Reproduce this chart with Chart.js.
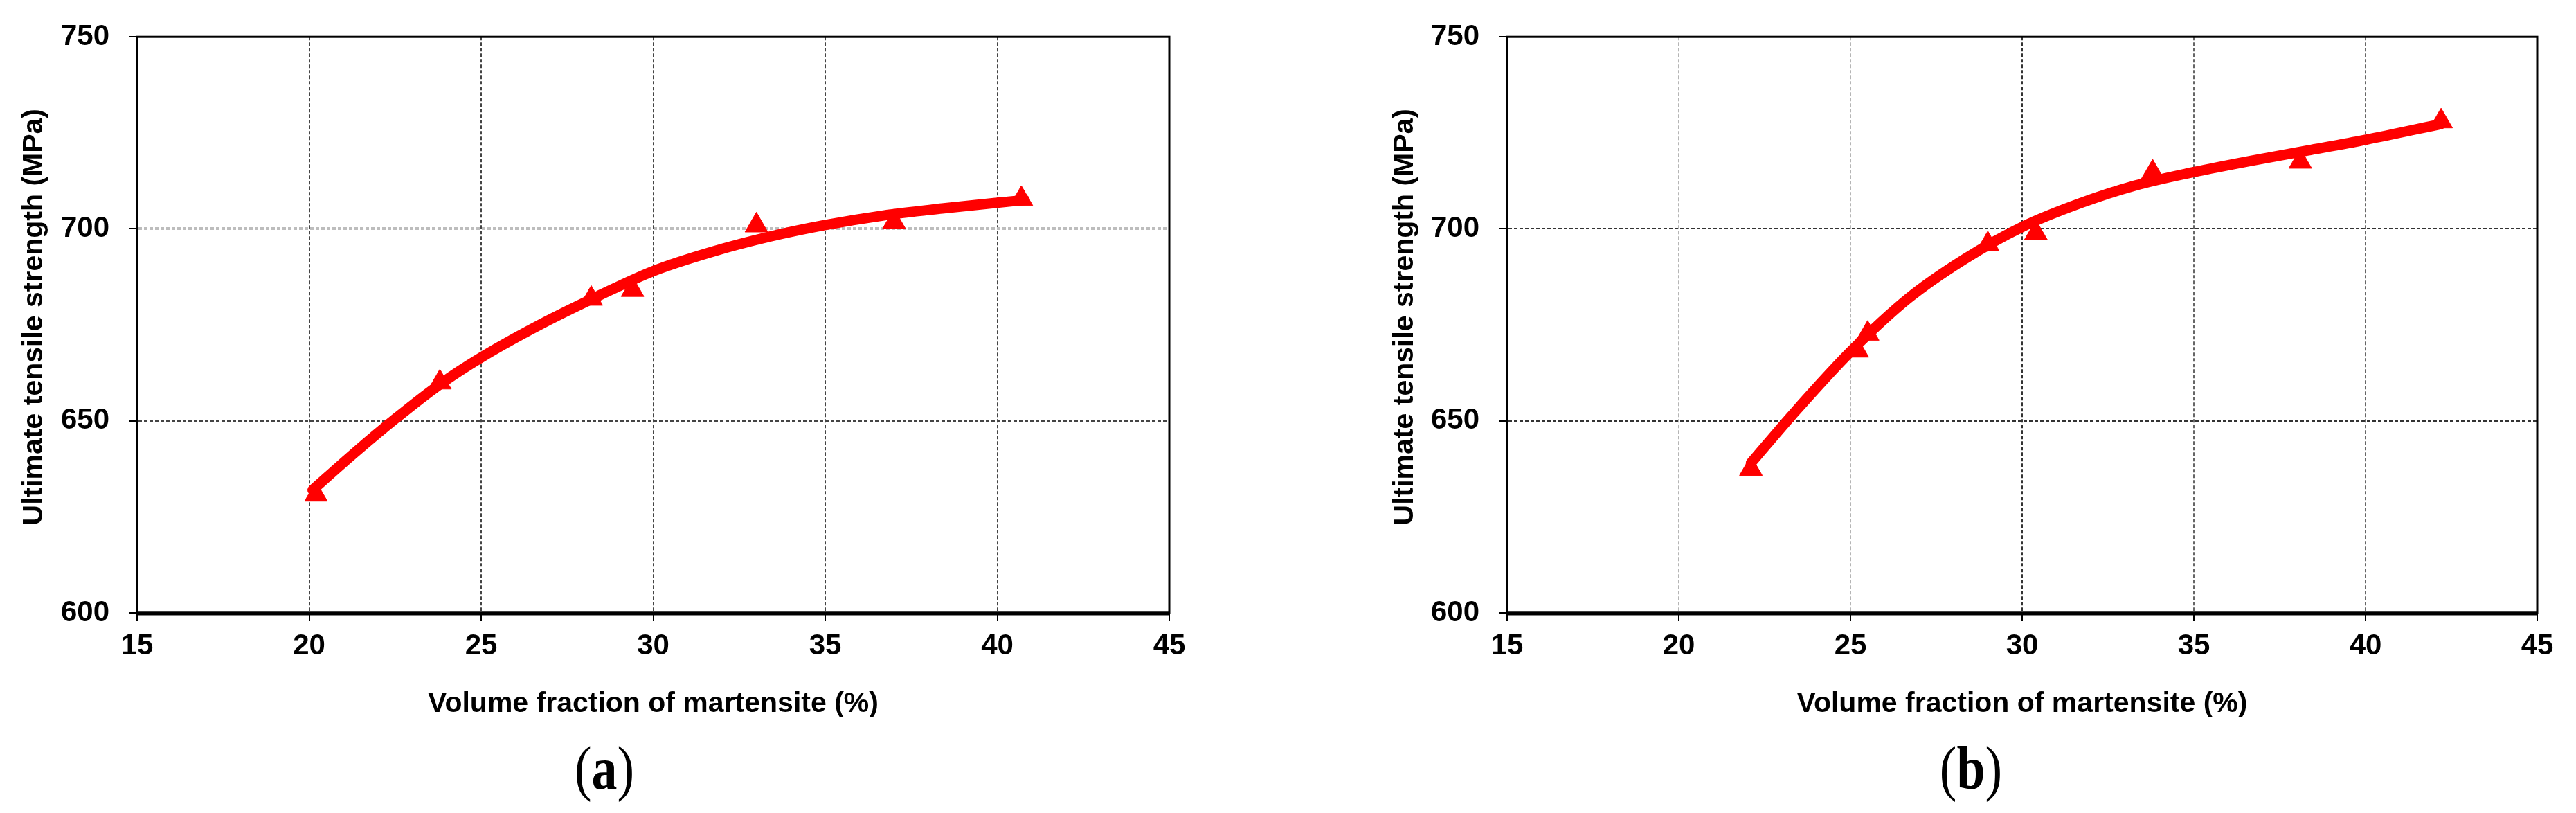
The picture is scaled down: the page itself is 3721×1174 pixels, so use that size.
<!DOCTYPE html>
<html>
<head>
<meta charset="utf-8">
<script src="https://cdn.jsdelivr.net/npm/chart.js@4.4.1/dist/chart.umd.min.js"></script>
<style>
  html, body { margin: 0; padding: 0; background: #fff; }
  #wrap { position: relative; width: 3721px; height: 1174px; }
  canvas { position: absolute; top: 0; }
</style>
</head>
<body>
<div id="wrap">
  <canvas id="chartA" width="1860" height="1174" style="left:0"></canvas>
  <canvas id="chartB" width="1861" height="1174" style="left:1860px"></canvas>
</div>
<script>
// axis ticks shared by both panels
const xTicks = [15, 20, 25, 30, 35, 40, 45];
const yTicks = [600, 650, 700, 750];

// panel (a) measured points
const aMarkX = [20.2, 23.8, 28.2, 29.4, 33.0, 37.0, 40.7];
const aMarkY = [630.8, 660.0, 681.8, 684.1, 700.9, 701.8, 707.8];
// panel (a) fitted curve
const aCurveX = [20.1, 21.3, 22.5, 23.8, 25, 26.7, 28.4, 30, 31.7, 33.4, 35, 36.7, 38.4, 40, 40.8];
const aCurveY = [632, 641.5, 650.5, 659.5, 666.5, 675, 682.5, 689, 694, 698, 701, 703.5, 705.3, 706.8, 707.5];

// panel (b) measured points
const bMarkX = [22.1, 25.2, 25.5, 29.0, 30.4, 33.8, 38.1, 42.2];
const bMarkY = [637.5, 668.3, 672.7, 696.0, 698.9, 714.7, 717.5, 728.0];
// panel (b) fitted curve
const bCurveX = [22.1, 23.3, 25, 26.7, 28.3, 30, 31.7, 33.3, 35, 36.7, 38.3, 40, 42.2];
const bCurveY = [639, 651.5, 668, 682, 692, 700.5, 706.7, 711.3, 714.8, 717.8, 720.4, 723.2, 727.3];

const xTitle = 'Volume fraction of martensite (%)';
const yTitle = '  Ultimate tensile strength (MPa)';

const RED = '#ff0000';
const tickFont = { family: '"Liberation Sans", Arial, sans-serif', size: 42, weight: 'bold' };
const titleFont = { family: '"Liberation Sans", Arial, sans-serif', size: 41, weight: 'bold' };

const toPts = (xs, ys) => xs.map((x, i) => ({ x: x, y: ys[i] }));

// box around the plot area
const framePlugin = {
  id: 'frame',
  afterDraw(chart) {
    const { ctx, chartArea: a } = chart;
    ctx.save();
    ctx.strokeStyle = '#000';
    ctx.lineWidth = 3;
    ctx.strokeRect(a.left, a.top, a.right - a.left, a.bottom - a.top);
    ctx.lineWidth = 5;
    ctx.beginPath();
    ctx.moveTo(a.left, a.bottom + 1);
    ctx.lineTo(a.right, a.bottom + 1);
    ctx.stroke();
    ctx.restore();
  }
};

// "(a)" / "(b)" under each panel
const tagPlugin = {
  id: 'panelTag',
  afterDraw(chart, args, opts) {
    const ctx = chart.ctx;
    const reg = '88px "Liberation Serif", "Times New Roman", serif';
    const bold = 'bold ' + reg;
    ctx.save();
    ctx.translate(opts.x, opts.y);
    ctx.scale(0.84, 1);
    ctx.fillStyle = '#000';
    ctx.textBaseline = 'alphabetic';
    ctx.font = reg;
    const wl = ctx.measureText('(').width;
    const wr = ctx.measureText(')').width;
    ctx.font = bold;
    const wm = ctx.measureText(opts.text).width;
    let x = -(wl + wm + wr) / 2;
    ctx.font = reg;
    ctx.fillText('(', x, 0);
    x += wl;
    ctx.font = bold;
    ctx.fillText(opts.text, x, 0);
    x += wm;
    ctx.font = reg;
    ctx.fillText(')', x, 0);
    ctx.restore();
  }
};

function makeChart(id, markX, markY, curveX, curveY, cfg) {
  const ctx = document.getElementById(id).getContext('2d');
  return new Chart(ctx, {
    type: 'scatter',
    data: {
      datasets: [
        {
          label: 'measured',
          data: toPts(markX, markY),
          pointStyle: 'triangle',
          pointRadius: 19,
          backgroundColor: RED,
          borderColor: RED,
          borderWidth: 1,
          showLine: false
        },
        {
          label: 'fit',
          data: toPts(curveX, curveY),
          showLine: true,
          borderColor: RED,
          borderWidth: 15,
          pointRadius: 0,
          cubicInterpolationMode: 'monotone',
          borderCapStyle: 'round',
          fill: false
        }
      ]
    },
    options: {
      responsive: false,
      animation: false,
      layout: { padding: cfg.padding },
      plugins: {
        legend: { display: false },
        tooltip: { enabled: false },
        panelTag: cfg.tag
      },
      scales: {
        x: {
          type: 'linear',
          min: xTicks[0],
          max: xTicks[xTicks.length - 1],
          afterBuildTicks: s => { s.ticks = xTicks.map(v => ({ value: v })); },
          ticks: { color: '#000', font: tickFont, padding: 11, maxRotation: 0 },
          grid: {
            color: c => cfg.xGrid(c.tick.value),
            lineWidth: 2,
            tickColor: '#000',
            tickLength: 12,
            tickWidth: 2
          },
          border: { display: true, color: '#000', width: 3, dash: [5, 3] },
          title: {
            display: true, text: xTitle, color: '#000', font: titleFont,
            padding: { top: 0, bottom: 133 }
          },
          afterFit: s => { s.height = 289; }
        },
        y: {
          type: 'linear',
          min: yTicks[0],
          max: yTicks[yTicks.length - 1],
          afterBuildTicks: s => { s.ticks = yTicks.map(v => ({ value: v })); },
          ticks: { color: '#000', font: tickFont, padding: 28 },
          grid: {
            color: c => cfg.yGrid(c.tick.value),
            lineWidth: c => cfg.yWidth(c.tick.value),
            tickColor: '#000',
            tickLength: 12,
            tickWidth: 2
          },
          border: { display: true, color: '#000', width: 3, dash: [5, 3] },
          title: {
            display: true, text: yTitle, color: '#000', font: titleFont,
            padding: { top: cfg.yTitlePad, bottom: 0 }
          },
          afterFit: s => { s.width = cfg.yWidthPx; }
        }
      }
    },
    plugins: [framePlugin, tagPlugin]
  });
}

makeChart('chartA', aMarkX, aMarkY, aCurveX, aCurveY, {
  padding: { left: 0, top: 45, right: 171, bottom: 0 },
  yWidthPx: 198,
  yTitlePad: 25,
  xGrid: v => '#444',
  yGrid: v => (v === 700 ? '#bdbdbd' : '#444'),
  yWidth: v => (v === 700 ? 4 : 2),
  tag: { text: 'a', x: 873, y: 1139 }
});

makeChart('chartB', bMarkX, bMarkY, bCurveX, bCurveY, {
  padding: { left: 0, top: 51, right: 56, bottom: 0 },
  yWidthPx: 317,
  yTitlePad: 145,
  xGrid: v => (v === 20 || v === 25 ? '#b5b5b5' : (v === 30 ? '#333' : '#666')),
  yGrid: v => '#333',
  yWidth: v => 2,
  tag: { text: 'b', x: 987, y: 1139 }
});
</script>
</body>
</html>
